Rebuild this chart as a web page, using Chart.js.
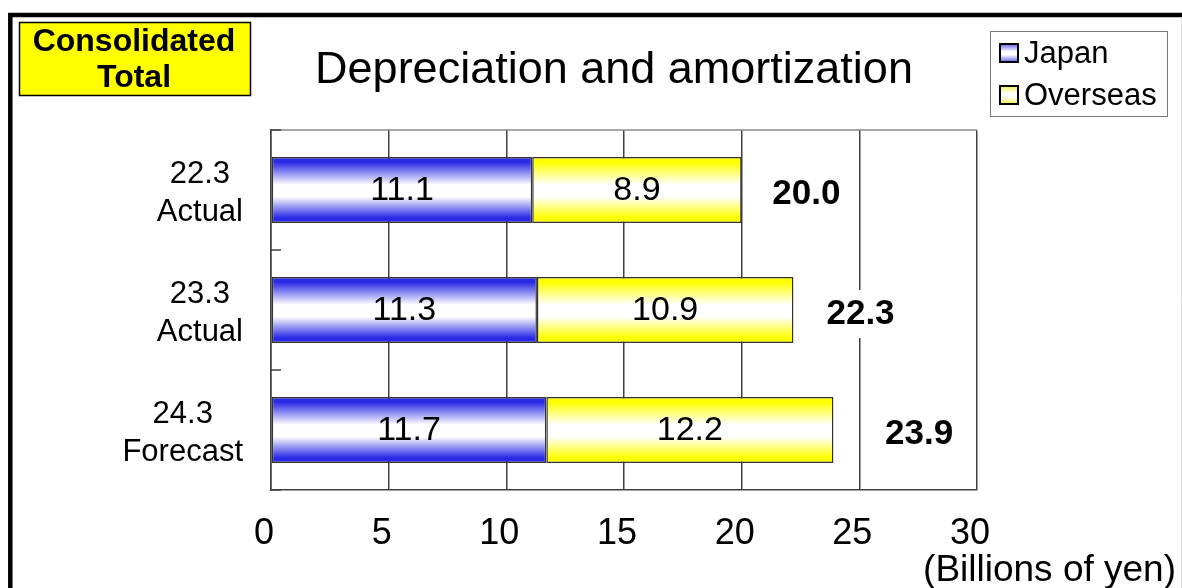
<!DOCTYPE html>
<html>
<head>
<meta charset="utf-8">
<script src="https://cdn.jsdelivr.net/npm/chart.js@4"></script>
<style>
  html, body { margin: 0; padding: 0; background: #fff; }
  #wrap { width: 1182px; height: 588px; }
</style>
</head>
<body>
<div id="wrap"><canvas id="depChart" width="1182" height="588"></canvas></div>
<script>
// chart values
const categories = [['22.3', 'Actual'], ['23.3', 'Actual'], ['24.3', 'Forecast']];
const japan = [11.1, 11.3, 11.7];
const overseas = [8.9, 10.9, 12.2];
const totals = [20.0, 22.3, 23.9];
const xTicks = [0, 5, 10, 15, 20, 25, 30];

const FONT = 'Arial, "Liberation Sans", sans-serif';
Chart.defaults.font.family = FONT;

const BAR_PCT = 0.55;

function bandGradient(ctx2d, top, bottom, edge) {
    const g = ctx2d.createLinearGradient(0, top, 0, bottom);
    g.addColorStop(0, edge);
    g.addColorStop(0.08, edge);
    g.addColorStop(0.42, '#ffffff');
    g.addColorStop(0.6, '#ffffff');
    g.addColorStop(0.92, edge);
    g.addColorStop(1, edge);
    return g;
}

function barFill(edge) {
    return (ctx) => {
        const chart = ctx.chart;
        if (!chart.chartArea || ctx.type !== 'data') return edge;
        const y = chart.scales.y;
        const c = y.getPixelForValue(ctx.dataIndex);
        const half = y.height / categories.length * BAR_PCT / 2;
        return bandGradient(chart.ctx, c - half, c + half, edge);
    };
}

const frame = {
    id: 'frame',
    beforeDraw(chart) {
        const c = chart.ctx;
        c.save();
        c.fillStyle = '#fff';
        c.fillRect(0, 0, chart.width, chart.height);

        // outer border
        c.strokeStyle = '#000';
        c.lineWidth = 4.5;
        c.beginPath();
        c.moveTo(10.3, 600);
        c.lineTo(10.3, 15);
        c.lineTo(1190, 15);
        c.stroke();
        c.strokeStyle = '#ddd';
        c.lineWidth = 1;
        c.beginPath();
        c.moveTo(1181.5, 17);
        c.lineTo(1181.5, 588);
        c.stroke();

        // yellow tag
        c.fillStyle = '#ffff00';
        c.fillRect(19.5, 22.5, 231, 73);
        c.strokeStyle = '#000';
        c.lineWidth = 1.5;
        c.strokeRect(19.5, 22.5, 231, 73);
        c.fillStyle = '#000';
        c.font = 'bold 32px ' + FONT;
        c.textAlign = 'center';
        c.textBaseline = 'middle';
        c.fillText('Consolidated', 134, 42);
        c.fillText('Total', 134, 78);

        // title
        c.font = '45px ' + FONT;
        c.fillText('Depreciation and amortization', 614, 71);

        // legend
        c.strokeStyle = '#777';
        c.lineWidth = 1;
        c.strokeRect(990.5, 31.5, 177, 85);
        const rows = [44, 86];
        chart.data.datasets.forEach((ds, i) => {
            const top = rows[i];
            c.fillStyle = bandGradient(c, top, top + 18, ds.legendEdge);
            c.fillRect(1000, top, 18, 18);
            c.strokeStyle = '#000';
            c.lineWidth = 2;
            c.strokeRect(1000, top, 18, 18);
            c.fillStyle = '#000';
            c.font = '31px ' + FONT;
            c.textAlign = 'left';
            c.textBaseline = 'alphabetic';
            c.fillText(ds.label, 1024, top + 19);
        });
        c.restore();
    },
    afterDatasetsDraw(chart) {
        const c = chart.ctx;
        const x = chart.scales.x;
        const y = chart.scales.y;
        const area = chart.chartArea;
        c.save();

        // top edge of plot and inner ticks on the category axis
        c.strokeStyle = '#8a8a8a';
        c.lineWidth = 1.5;
        c.beginPath();
        c.moveTo(area.left, area.top);
        c.lineTo(area.right, area.top);
        c.stroke();
        c.strokeStyle = '#404040';
        c.beginPath();
        for (let i = 0; i <= categories.length; i++) {
            const py = area.top + (area.bottom - area.top) * i / categories.length;
            c.moveTo(area.left, py);
            c.lineTo(area.left + 10, py);
        }
        c.stroke();

        // values inside the bars
        c.fillStyle = '#000';
        c.textAlign = 'center';
        c.textBaseline = 'middle';
        c.font = '34px ' + FONT;
        chart.data.datasets.forEach((ds, di) => {
            chart.getDatasetMeta(di).data.forEach((bar) => {
                const i = bar.$context.dataIndex;
                const v = ds.data[i];
                const cx = (bar.x + bar.base) / 2;
                c.fillText(v.toFixed(1), cx, bar.y + 1);
            });
        });

        // totals with white boxes
        const nudge = [0, 0, 21];
        c.font = 'bold 35px ' + FONT;
        totals.forEach((t, i) => {
            const cx = x.getPixelForValue(t + 2.75) + nudge[i];
            const cy = y.getPixelForValue(i) + 4;
            const s = t.toFixed(1);
            const w = c.measureText(s).width;
            c.fillStyle = '#fff';
            c.fillRect(cx - w / 2 - 14, cy - 24, w + 28, 48);
            c.fillStyle = '#000';
            c.fillText(s, cx, cy);
        });

        // category labels: lines centred, block right-aligned
        c.font = '31px ' + FONT;
        categories.forEach((lines, i) => {
            const cy = y.getPixelForValue(i) + 3;
            const maxW = Math.max(...lines.map(l => c.measureText(l).width));
            const cx = 243 - maxW / 2;
            lines.forEach((l, k) => {
                c.fillText(l, cx, cy + (k - (lines.length - 1) / 2) * 38);
            });
        });

        // unit
        c.font = '37px ' + FONT;
        c.textAlign = 'right';
        c.fillText('(Billions of yen)', 1176, 571);
        c.restore();
    }
};

new Chart(document.getElementById('depChart'), {
    type: 'bar',
    data: {
        labels: categories,
        datasets: [{
            label: 'Japan',
            data: japan,
            legendEdge: '#8080f0',
            backgroundColor: barFill('#2a2ae6'),
            borderColor: '#333',
            borderWidth: 1.5,
            borderSkipped: false,
            barPercentage: BAR_PCT,
            categoryPercentage: 1
        }, {
            label: 'Overseas',
            data: overseas,
            legendEdge: '#f4f070',
            backgroundColor: barFill('#ffff00'),
            borderColor: '#333',
            borderWidth: 1.5,
            borderSkipped: false,
            barPercentage: BAR_PCT,
            categoryPercentage: 1
        }]
    },
    options: {
        indexAxis: 'y',
        responsive: false,
        animation: false,
        events: [],
        layout: { padding: { top: 130, right: 205, left: 0, bottom: 0 } },
        plugins: {
            legend: { display: false },
            tooltip: { enabled: false }
        },
        scales: {
            x: {
                stacked: true,
                min: 0,
                max: 30,
                afterBuildTicks: (s) => { s.ticks = xTicks.map(v => ({ value: v })); },
                afterFit: (s) => { s.height = 98; },
                grid: { color: '#404040', lineWidth: 1.5, drawTicks: false },
                border: { color: '#404040', width: 1.5 },
                ticks: {
                    color: '#000',
                    font: { size: 36 },
                    padding: 22,
                    labelOffset: -7,
                    maxRotation: 0
                }
            },
            y: {
                stacked: true,
                afterFit: (s) => { s.width = 271; },
                grid: { display: false },
                border: { color: '#404040', width: 1.5 },
                ticks: { display: false }
            }
        }
    },
    plugins: [frame]
});
</script>
</body>
</html>
